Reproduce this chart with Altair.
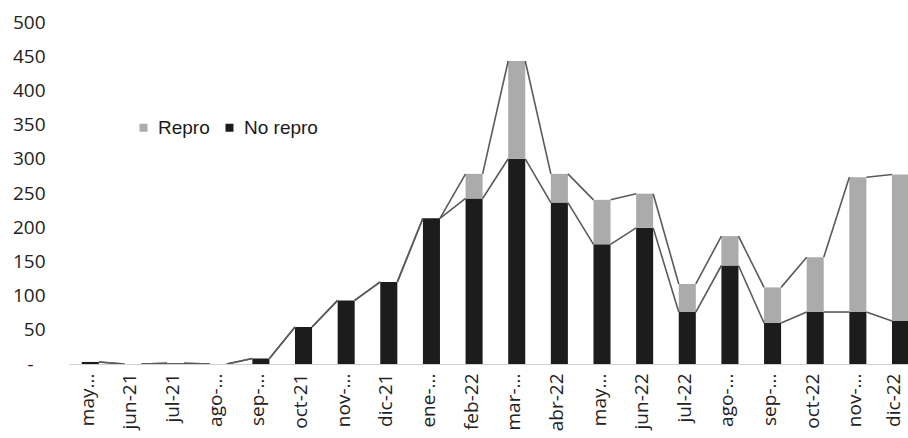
import altair as alt
import pandas as pd

# Monthly counts, May 2021 - December 2022
months = ["may-21", "jun-21", "jul-21", "ago-21", "sep-21", "oct-21", "nov-21",
          "dic-21", "ene-22", "feb-22", "mar-22", "abr-22", "may-22", "jun-22",
          "jul-22", "ago-22", "sep-22", "oct-22", "nov-22", "dic-22"]
tick_labels = ["may...", "jun-21", "jul-21", "ago-...", "sep-...", "oct-21", "nov-...",
               "dic-21", "ene-...", "feb-22", "mar-...", "abr-22", "may...", "jun-22",
               "jul-22", "ago-...", "sep-...", "oct-22", "nov-...", "dic-22"]
no_repro = [3, 0, 1, 0, 8, 54, 93, 120, 213, 242, 300, 236, 175, 199, 76, 144, 60, 76, 76, 63]
repro = [0, 0, 0, 0, 0, 0, 0, 0, 0, 36, 143, 42, 65, 50, 41, 43, 52, 80, 197, 214]

series_names = ["Repro", "No repro"]
series_colors = ["#ababab", "#1c1c1c"]

HALF = 0.2  # half bar width in category units (gap width 150%)

rows = []
for i, m in enumerate(months):
    rows.append({"i": i, "mes": m, "serie": "No repro", "y0": 0, "y1": no_repro[i]})
    rows.append({"i": i, "mes": m, "serie": "Repro", "y0": no_repro[i],
                 "y1": no_repro[i] + repro[i]})
bars_df = pd.DataFrame(rows)

# Series lines join the top of each stacked segment to the next column
lines = []
for i in range(len(months) - 1):
    lines.append({"xa": i + HALF, "xb": i + 1 - HALF,
                  "ya": no_repro[i], "yb": no_repro[i + 1]})
    lines.append({"xa": i + HALF, "xb": i + 1 - HALF,
                  "ya": no_repro[i] + repro[i], "yb": no_repro[i + 1] + repro[i + 1]})
lines_df = pd.DataFrame(lines)

label_expr = "[" + ",".join("'" + t + "'" for t in tick_labels) + "][datum.value]"

x_scale = alt.Scale(domain=[-0.5, 19.176], nice=False, zero=False)
y_scale = alt.Scale(domain=[0, 500], nice=False)

x_axis = alt.Axis(values=list(range(len(months))), labelExpr=label_expr,
                  labelAngle=-90, labelAlign="right", labelBaseline="middle",
                  labelPadding=9,
                  labelOffset={"condition": {"test": "datum.value === 19", "value": -7},
                               "value": -3},
                  labelFont="Open Sans", labelFontSize=19,
                  labelColor="#222222", ticks=False, grid=False,
                  domainColor="#cfcfcf", domainWidth=1, title=None,
                  labelOverlap=False, labelBound=False)
y_axis = alt.Axis(values=list(range(0, 501, 50)),
                  labelExpr="datum.value == 0 ? '-' : datum.label",
                  labelFont="Open Sans", labelFontSize=19, labelColor="#222222",
                  labelPadding={"condition": {"test": "datum.value === 0", "value": 36},
                                "value": 24},
                  labelOverlap=False, ticks=False, domain=False, grid=False, title=None)

bars = alt.Chart(bars_df).transform_calculate(
    xl=f"datum.i - {HALF}", xr=f"datum.i + {HALF}"
).mark_bar(clip=True).encode(
    x=alt.X("xl:Q", scale=x_scale, axis=x_axis),
    x2="xr:Q",
    y=alt.Y("y0:Q", scale=y_scale, axis=y_axis),
    y2="y1:Q",
    color=alt.Color("serie:N",
                    scale=alt.Scale(domain=series_names, range=series_colors),
                    legend=alt.Legend(orient="none", legendX=65, legendY=96,
                                      direction="horizontal", title=None,
                                      symbolType="square", symbolSize=64,
                                      symbolStrokeWidth=0, labelFont="Liberation Sans",
                                      labelFontSize=19, labelColor="#1a1a1a",
                                      labelOffset=5, columnPadding=10)),
)

series_lines = alt.Chart(lines_df).mark_rule(color="#5a5a5a", strokeWidth=1.6,
                                             clip=True).encode(
    x=alt.X("xa:Q", scale=x_scale, axis=x_axis),
    x2="xb:Q",
    y=alt.Y("ya:Q", scale=y_scale, axis=y_axis),
    y2="yb:Q",
)

chart = alt.layer(bars, series_lines).properties(
    width=839, height=342,
    padding={"left": 69, "top": 22, "right": 0, "bottom": 74},
    autosize=alt.AutoSizeParams(type="none"),
    background="white",
).configure_view(stroke=None)

chart.save("out.html", embed_options={"renderer": "svg", "actions": False})
